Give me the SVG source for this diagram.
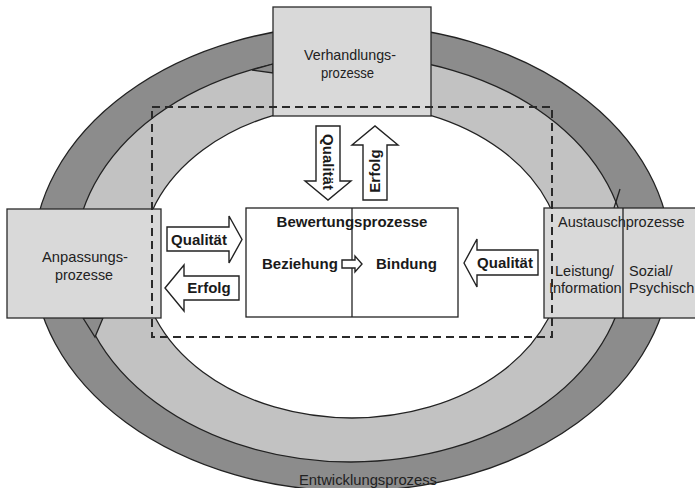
<svg xmlns="http://www.w3.org/2000/svg" width="695" height="488" viewBox="0 0 695 488">
<style>
.ln{stroke:#222;stroke-width:1.3;}
.box{fill:#d9d9d9;stroke:#2a2a2a;stroke-width:1.3;}
.arr{fill:#fff;stroke:#222;stroke-width:1.4;stroke-linejoin:miter;}
.t{font-family:"Liberation Sans",Arial,sans-serif;font-size:14.5px;fill:#222;}
.n{font-family:"Liberation Sans",Arial,sans-serif;font-size:15px;fill:#222;}
.b{font-family:"Liberation Sans",Arial,sans-serif;font-size:15px;font-weight:bold;fill:#1a1a1a;}
</style>
<rect width="695" height="488" fill="#fff"/>
<g id="entwicklungsprozess">
  <ellipse cx="352" cy="258" rx="319" ry="233" fill="#8c8c8c" class="ln"/>
  <ellipse cx="351" cy="259" rx="276" ry="203" fill="#c2c2c2" class="ln"/>
  <ellipse cx="352" cy="261" rx="211" ry="157" fill="#fff" class="ln"/>
  <polygon points="252,70 273,64 273,73" fill="#8c8c8c" class="ln"/>
  <polygon points="83,318 103,318 95,337" fill="#8c8c8c" class="ln"/>
  <line x1="614" y1="208" x2="620" y2="189" class="ln"/>
  <text class="n" x="299" y="485" textLength="138" lengthAdjust="spacingAndGlyphs">Entwicklungsprozess</text>
</g>
<g id="verhandlungsprozesse">
  <rect class="box" x="273" y="7" width="158" height="109"/>
  <text class="n" x="304" y="60" textLength="92" lengthAdjust="spacingAndGlyphs">Verhandlungs-</text>
  <text class="n" x="321" y="78" textLength="53" lengthAdjust="spacingAndGlyphs">prozesse</text>
</g>
<g id="anpassungsprozesse">
  <rect class="box" x="7" y="209" width="154" height="109"/>
  <text class="n" x="42" y="262" textLength="86" lengthAdjust="spacingAndGlyphs">Anpassungs-</text>
  <text class="n" x="55" y="280" textLength="58" lengthAdjust="spacingAndGlyphs">prozesse</text>
</g>
<g id="austauschprozesse">
  <rect class="box" x="544" y="208" width="160" height="110"/>
  <line x1="623" y1="208" x2="623" y2="318" class="ln"/>
  <text class="t" x="558" y="227" font-size="15">Austauschprozesse</text>
  <text class="t" x="555" y="276">Leistung/</text>
  <text class="t" x="549" y="293">Information</text>
  <text class="t" x="629" y="276">Sozial/</text>
  <text class="t" x="629" y="293">Psychisch</text>
</g>
<g id="bewertungsprozesse">
  <rect x="246" y="208" width="212" height="109" fill="#fff" class="ln"/>
  <line x1="352" y1="208" x2="352" y2="317" class="ln"/>
  <text class="b" x="352" y="227" text-anchor="middle">Bewertungsprozesse</text>
  <text class="b" x="262" y="269">Beziehung</text>
  <text class="b" x="376" y="269">Bindung</text>
  <path class="arr" stroke-width="1.1" d="M342,260 H355 V256 L362,264 L355,272 V268 H342 Z"/>
</g>
<g id="connectors">
  <path class="arr" d="M316,126 H340 V181 H351 L328,200 L305,181 H316 Z"/>
  <text class="b" transform="translate(328,162) rotate(90)" text-anchor="middle" dy="5">Qualität</text>
  <path class="arr" d="M363,200 V145 H352 L375,126 L398,145 H387 V200 Z"/>
  <text class="b" transform="translate(375,171) rotate(-90)" text-anchor="middle" dy="5">Erfolg</text>
  <path class="arr" d="M167,227 H229 V216 L242,239.5 L229,263 V251 H167 Z"/>
  <text class="b" x="199" y="245" text-anchor="middle">Qualität</text>
  <path class="arr" d="M165,288 L184,265 V276 H239 V300 H184 V311 Z"/>
  <text class="b" x="209" y="293" text-anchor="middle">Erfolg</text>
  <path class="arr" d="M464,263 L477,239 V250 H538 V275 H477 V287 Z"/>
  <text class="b" x="505" y="268" text-anchor="middle">Qualität</text>
</g>
<g id="rahmen">
  <rect x="152" y="107" width="400" height="230" fill="none" stroke="#2a2a2a" stroke-width="2" stroke-dasharray="8,5"/>
</g>
</svg>
